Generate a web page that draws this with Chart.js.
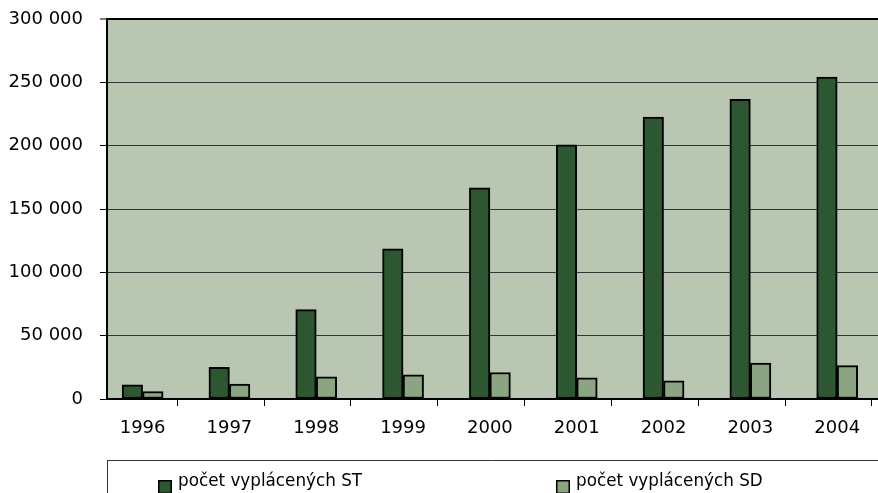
<!DOCTYPE html>
<html>
<head>
<meta charset="utf-8">
<script src="https://cdn.jsdelivr.net/npm/chart.js@4"></script>
<style>
html,body{margin:0;padding:0;background:#fff;}
#wrap{width:878px;height:493px;position:relative;}
</style>
</head>
<body>
<div id="wrap"><canvas id="c"></canvas></div>
<script>
const categories = ['1996','1997','1998','1999','2000','2001','2002','2003','2004'];
const seriesST = [11200, 25000, 70500, 118600, 166800, 200700, 222500, 236500, 254100];
const seriesSD = [5900, 11700, 17500, 19100, 20900, 16700, 14400, 28300, 26400];
const seriesNames = ['počet vyplácených ST', 'počet vyplácených SD'];
const yTicks = [0, 50000, 100000, 150000, 200000, 250000, 300000];

const COL_ST = '#2d5730';
const COL_SD = '#8ba583';
const COL_BG = '#b9c6b1';
const FONT = '"DejaVu Sans", sans-serif';

function fmt(v){ return String(v).replace(/\B(?=(\d{3})+(?!\d))/g, ' '); }

const plotBg = {
  id: 'plotBg',
  beforeDraw(chart){
    const {ctx, chartArea:a} = chart;
    ctx.save();
    ctx.fillStyle = COL_BG;
    ctx.fillRect(a.left, a.top, a.right - a.left, a.bottom - a.top);
    ctx.restore();
  }
};

const boxLegend = {
  id: 'boxLegend',
  afterDraw(chart){
    const {ctx, chartArea:a} = chart;
    const top = a.bottom + 61;
    ctx.save();
    ctx.strokeStyle = '#333';
    ctx.lineWidth = 1;
    ctx.beginPath();
    ctx.moveTo(a.left, top + 0.5);
    ctx.lineTo(chart.width, top + 0.5);
    ctx.moveTo(a.left + 0.5, top);
    ctx.lineTo(a.left + 0.5, chart.height);
    ctx.stroke();
    const xs = [a.left + 51, a.left + 449];
    const cols = [COL_ST, COL_SD];
    ctx.font = '16.8px ' + FONT;
    ctx.textBaseline = 'alphabetic';
    seriesNames.forEach((n, i) => {
      ctx.fillStyle = cols[i];
      ctx.fillRect(xs[i], top + 20, 14, 14);
      ctx.strokeStyle = '#000';
      ctx.lineWidth = 1.5;
      ctx.strokeRect(xs[i] + 0.75, top + 20.75, 12.5, 12.5);
      ctx.fillStyle = '#000';
      ctx.fillText(n, xs[i] + 20, top + 25.5);
    });
    ctx.restore();
  }
};

new Chart(document.getElementById('c'), {
  type: 'bar',
  data: {
    datasets: [
      { label: seriesNames[0], data: seriesST.map((v,i)=>({x:i, y:v})), backgroundColor: COL_ST,
        borderColor: '#000', borderWidth: 2, borderSkipped: false, barThickness: 20.5, xAxisID: 'x' },
      { label: seriesNames[1], data: seriesSD.map((v,i)=>({x:i, y:v})), backgroundColor: COL_SD,
        borderColor: '#000', borderWidth: 2, borderSkipped: false, barThickness: 20.5, xAxisID: 'x' }
    ]
  },
  options: {
    responsive: true,
    maintainAspectRatio: false,
    animation: false,
    layout: { padding: { top: 19, right: 0, bottom: 0, left: 0 } },
    plugins: { legend: { display: false }, tooltip: { enabled: false } },
    scales: {
      x2: {
        type: 'linear', position: 'bottom', weight: 0, offset: false,
        min: -0.41, max: 8.47,
        afterBuildTicks(s){ s.ticks = categories.map((_, i) => ({ value: i + 0.4 })); },
        afterFit(s){ s.paddingLeft = 0; s.paddingRight = 0; },
        ticks: { display: false },
        grid: { drawOnChartArea: false, drawTicks: true, tickLength: 7, tickColor: '#000', tickWidth: 1, offset: false },
        border: { display: true, color: '#000', width: 2 }
      },
      x: {
        type: 'linear', position: 'bottom', weight: 1, offset: false,
        min: -0.41, max: 8.47,
        afterBuildTicks(s){ s.ticks = categories.map((_, i) => ({ value: i })); },
        afterFit(s){ s.height = 87; s.paddingLeft = 0; s.paddingRight = 0; },
        ticks: {
          autoSkip: false, maxRotation: 0, padding: 12,
          color: '#000', font: { family: FONT, size: 18 },
          callback(v, i){ return categories[i]; }
        },
        grid: { display: false, drawTicks: false, tickLength: 0, offset: false },
        border: { display: false }
      },
      y: {
        type: 'linear', min: 0, max: 300000,
        afterBuildTicks(s){ s.ticks = yTicks.map(v => ({ value: v })); },
        afterFit(s){ s.width = 107; s.paddingTop = 0; s.paddingBottom = 0; },
        ticks: { padding: 17, color: '#000', font: { family: FONT, size: 18 }, callback(v){ return fmt(v); } },
        grid: {
          color: ctx => ctx.tick && ctx.tick.value === 300000 ? '#000' : '#333',
          lineWidth: ctx => ctx.tick && ctx.tick.value === 300000 ? 2 : 1,
          tickLength: 7, tickColor: '#000', tickWidth: 1
        },
        border: { display: true, color: '#000', width: 2 }
      }
    }
  },
  plugins: [plotBg, boxLegend]
});
</script>
</body>
</html>
